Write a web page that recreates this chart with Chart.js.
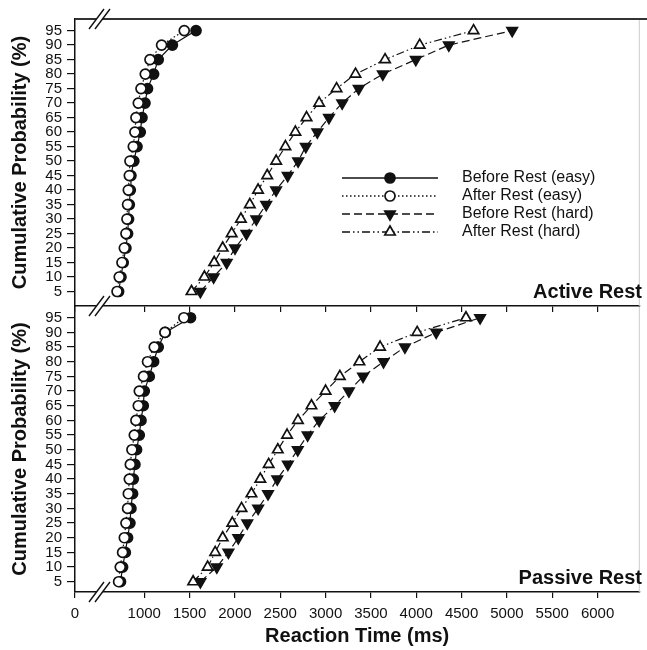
<!DOCTYPE html>
<html>
<head>
<meta charset="utf-8">
<script src="https://cdn.jsdelivr.net/npm/chart.js@4.4.1/dist/chart.umd.min.js"></script>
<style>
  body { margin: 0; background: #fff; }
  #wrap { position: relative; width: 647px; height: 650px; }
  canvas { position: absolute; left: 0; top: 0; }
</style>
</head>
<body>
<div id="wrap">
  <canvas id="lower" width="647" height="650"></canvas>
  <canvas id="upper" width="647" height="650"></canvas>
</div>
<script>
// cumulative probability levels (%)
const probs = [5, 10, 15, 20, 25, 30, 35, 40, 45, 50, 55, 60, 65, 70, 75, 80, 85, 90, 95];

// reaction times (ms), Active Rest panel
const activeBeforeEasy = [717, 743, 768, 798, 816, 827, 835, 846, 853, 885, 920, 956, 975, 1008, 1036, 1103, 1154, 1310, 1571];
const activeAfterEasy  = [700, 724, 754, 780, 798, 809, 816, 824, 835, 842, 879, 897, 908, 934, 964, 1011, 1063, 1191, 1441];
const activeBeforeHard = [1619, 1765, 1909, 2001, 2127, 2236, 2345, 2454, 2582, 2697, 2782, 2909, 3037, 3183, 3365, 3631, 3995, 4359, 5058];
const activeAfterHard  = [1521, 1663, 1771, 1865, 1964, 2066, 2164, 2255, 2356, 2455, 2557, 2667, 2790, 2929, 3121, 3330, 3656, 4038, 4632];

// reaction times (ms), Passive Rest panel
const passiveBeforeEasy = [738, 761, 791, 816, 842, 853, 871, 879, 897, 915, 945, 964, 989, 1000, 1055, 1103, 1154, 1232, 1510];
const passiveAfterEasy  = [717, 735, 761, 780, 798, 816, 824, 835, 846, 864, 890, 908, 934, 945, 992, 1036, 1110, 1228, 1437];
const passiveBeforeHard = [1619, 1800, 1928, 2037, 2136, 2256, 2365, 2467, 2584, 2693, 2802, 2929, 3100, 3257, 3413, 3639, 3875, 4220, 4704];
const passiveAfterHard  = [1539, 1699, 1782, 1865, 1971, 2073, 2182, 2280, 2372, 2473, 2575, 2695, 2844, 3000, 3157, 3373, 3601, 4010, 4548];

const seriesNames = ['Before Rest (easy)', 'After Rest (easy)', 'Before Rest (hard)', 'After Rest (hard)'];
const xTicks = [0, 1000, 1500, 2000, 2500, 3000, 3500, 4000, 4500, 5000, 5500, 6000];
const yTicks = [5, 10, 15, 20, 25, 30, 35, 40, 45, 50, 55, 60, 65, 70, 75, 80, 85, 90, 95];

// broken x axis: the "0" tick sits at the left edge
const xMin = 236, xMax = 6460;
const FONT = "'Liberation Sans', Arial, sans-serif";
const INK = '#111';

const styles = [
  { dash: [], point: 'circle', filled: true, rot: 0, r: 5 },
  { dash: [1.5, 2.5], point: 'circle', filled: false, rot: 0, r: 5 },
  { dash: [8, 4], point: 'triangle', filled: true, rot: 180, r: 6 },
  { dash: [8, 3, 1.5, 3, 1.5, 3], point: 'triangle', filled: false, rot: 0, r: 6 }
];

function pts(arr) {
  return arr.map((v, i) => ({ x: v, y: probs[i] }));
}

function makeDatasets(series) {
  // draw order: first dataset ends up on top, so open markers go first
  const order = [1, 0, 3, 2];
  return order.map(k => {
    const s = styles[k];
    return {
      label: seriesNames[k],
      data: pts(series[k]),
      borderColor: INK,
      borderWidth: 1.2,
      borderDash: s.dash,
      backgroundColor: s.filled ? INK : '#fff',
      pointStyle: s.point,
      pointRotation: s.rot,
      pointRadius: s.r,
      pointBorderWidth: 1.7,
      pointBorderColor: INK,
      pointBackgroundColor: s.filled ? INK : '#fff',
      tension: 0,
      fill: false
    };
  });
}

function drawMarker(ctx, s, x, y) {
  ctx.save();
  ctx.setLineDash([]);
  ctx.lineWidth = 1.7;
  ctx.strokeStyle = INK;
  ctx.fillStyle = s.filled ? INK : '#fff';
  ctx.beginPath();
  if (s.point === 'circle') {
    ctx.arc(x, y, s.r, 0, Math.PI * 2);
  } else {
    let a = s.rot * Math.PI / 180;
    for (let i = 0; i < 3; i++) {
      const px = x + Math.sin(a) * s.r, py = y - Math.cos(a) * s.r;
      if (i === 0) ctx.moveTo(px, py); else ctx.lineTo(px, py);
      a += Math.PI * 2 / 3;
    }
    ctx.closePath();
  }
  ctx.fill();
  ctx.stroke();
  ctx.restore();
}

function breakMark(ctx, x, y) {
  ctx.save();
  ctx.fillStyle = '#fff';
  ctx.beginPath();
  ctx.moveTo(x - 11, y + 10); ctx.lineTo(x + 4, y - 10);
  ctx.lineTo(x + 10, y - 10); ctx.lineTo(x - 5, y + 10);
  ctx.closePath();
  ctx.fill();
  ctx.strokeStyle = INK;
  ctx.lineWidth = 1.4;
  ctx.beginPath();
  ctx.moveTo(x - 11, y + 10); ctx.lineTo(x + 4, y - 10);
  ctx.moveTo(x - 5, y + 10); ctx.lineTo(x + 10, y - 10);
  ctx.stroke();
  ctx.restore();
}

function panelPlugin(label, isUpper) {
  return {
    id: 'panel',
    afterDraw(chart) {
      const { ctx, chartArea: a } = chart;
      ctx.save();
      // frame
      ctx.strokeStyle = '#ccc';
      ctx.lineWidth = 1;
      ctx.beginPath();
      ctx.moveTo(a.right, a.top); ctx.lineTo(a.right, a.bottom);
      ctx.stroke();
      if (isUpper) {
        ctx.strokeStyle = '#333';
        ctx.lineWidth = 2.2;
        ctx.beginPath();
        ctx.moveTo(a.left, a.top); ctx.lineTo(647, a.top);
        ctx.stroke();
      }
      // panel label
      ctx.fillStyle = INK;
      ctx.font = 'bold 20px ' + FONT;
      ctx.textAlign = 'right';
      ctx.textBaseline = 'alphabetic';
      ctx.fillText(label, 642, a.bottom - 8);
      ctx.restore();
      // axis break marks
      breakMark(ctx, 100, a.bottom);
      if (isUpper) breakMark(ctx, 100, a.top);

      if (isUpper) {
        // legend
        const rows = [178, 196, 214, 232];
        ctx.save();
        ctx.font = '16px ' + FONT;
        ctx.textBaseline = 'middle';
        ctx.textAlign = 'left';
        styles.forEach((s, i) => {
          const y = rows[i];
          ctx.strokeStyle = INK;
          ctx.lineWidth = 1.4;
          ctx.setLineDash(s.dash);
          ctx.beginPath();
          ctx.moveTo(342, y); ctx.lineTo(438, y);
          ctx.stroke();
          drawMarker(ctx, s, 390, y);
          ctx.fillStyle = INK;
          ctx.fillText(seriesNames[i], 462, y);
        });
        ctx.restore();
      }
    }
  };
}

function makeChart(id, series, label, isUpper) {
  const padTop = isUpper ? 19 : 306;
  const xAxisH = isUpper ? 6 : 58;
  const padBottom = isUpper ? 650 - 306 - xAxisH : 0;
  return new Chart(document.getElementById(id), {
    type: 'line',
    data: { datasets: makeDatasets(series) },
    options: {
      responsive: false,
      animation: false,
      events: [],
      layout: { padding: { top: padTop, bottom: padBottom, left: 0, right: 2 } },
      plugins: { legend: { display: false }, tooltip: { enabled: false } },
      scales: {
        x: {
          type: 'linear',
          min: xMin,
          max: xMax,
          afterBuildTicks: scale => {
            scale.ticks = xTicks.map(v => ({ value: v === 0 ? xMin : v }));
          },
          afterFit: scale => { scale.height = xAxisH; },
          grid: { drawOnChartArea: false, drawTicks: true, tickLength: 6, color: INK, lineWidth: 1.2 },
          border: { display: true, color: INK, width: 1.5 },
          ticks: {
            display: !isUpper,
            autoSkip: false,
            maxRotation: 0,
            padding: 7,
            color: INK,
            font: { family: FONT, size: 15 },
            callback: v => (v === xMin ? '0' : String(v))
          },
          title: {
            display: !isUpper,
            text: 'Reaction Time (ms)',
            color: INK,
            font: { family: FONT, size: 20, weight: 'bold' },
            padding: { top: 0, bottom: 2 }
          }
        },
        y: {
          type: 'linear',
          min: isUpper ? 0 : 1.5,
          max: 99,
          afterBuildTicks: scale => {
            scale.ticks = yTicks.map(v => ({ value: v }));
          },
          afterFit: scale => { scale.width = 75; },
          grid: { drawOnChartArea: false, drawTicks: true, tickLength: 8, color: INK, lineWidth: 1.2 },
          border: { display: true, color: INK, width: 1.5 },
          ticks: {
            autoSkip: false,
            padding: 5,
            color: INK,
            font: { family: FONT, size: 15 }
          },
          title: {
            display: true,
            text: 'Cumulative Probability (%)',
            color: INK,
            font: { family: FONT, size: 20, weight: 'bold' },
            padding: { top: 8, bottom: 0 }
          }
        }
      }
    },
    plugins: [panelPlugin(label, isUpper)]
  });
}

makeChart('lower', [passiveBeforeEasy, passiveAfterEasy, passiveBeforeHard, passiveAfterHard], 'Passive Rest', false);
makeChart('upper', [activeBeforeEasy, activeAfterEasy, activeBeforeHard, activeAfterHard], 'Active Rest', true);
</script>
</body>
</html>
